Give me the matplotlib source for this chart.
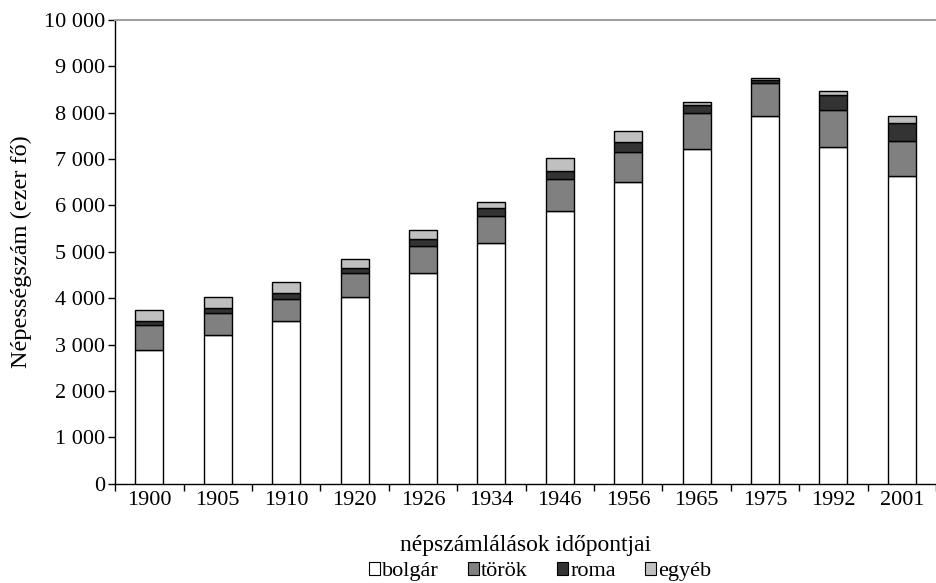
import matplotlib.pyplot as plt
import numpy as np
from matplotlib.ticker import FuncFormatter, MultipleLocator
from matplotlib.patches import Patch

plt.rcParams['font.family'] = ['Liberation Serif', 'DejaVu Serif']

# népszámlálások (ezer fő)
years = ["1900", "1905", "1910", "1920", "1926", "1934", "1946", "1956", "1965", "1975", "1992", "2001"]
bolgar = [2890, 3200, 3520, 4030, 4550, 5190, 5890, 6500, 7220, 7920, 7260, 6640]
torok = [530, 480, 460, 510, 580, 590, 680, 650, 780, 720, 800, 750]
roma = [100, 120, 130, 110, 140, 160, 180, 210, 170, 55, 320, 380]
egyeb = [230, 230, 230, 190, 200, 130, 270, 250, 50, 45, 90, 150]

series = [("bolgár", bolgar, "white"),
          ("török", torok, "#808080"),
          ("roma", roma, "#333333"),
          ("egyéb", egyeb, "#c0c0c0")]


def thousands(x, pos):
    return f"{int(x):,}".replace(",", " ")


fig = plt.figure(figsize=(9.36, 5.83), dpi=100)
ax = fig.add_axes([0.123, 0.170, 0.877, 0.796])

x = np.arange(len(years))
bottom = np.zeros(len(years))
handles = []
for name, vals, color in series:
    ax.bar(x, vals, width=0.41, bottom=bottom, color=color,
           edgecolor="black", linewidth=1.0, zorder=3)
    bottom += np.array(vals)
    handles.append(Patch(facecolor=color, edgecolor="black", linewidth=0.8, label=name))

ax.set_xlim(-0.5, len(years) - 0.5)
ax.set_ylim(0, 10000)
ax.yaxis.set_major_locator(MultipleLocator(1000))
ax.yaxis.set_major_formatter(FuncFormatter(thousands))

# ticks between categories
ax.set_xticks(np.arange(-0.5, len(years), 1.0))
ax.set_xticklabels([])
ax.set_xticks(x, minor=True)
ax.set_xticklabels(years, minor=True)
ax.tick_params(axis="x", which="major", direction="out", length=5, width=1)
ax.tick_params(axis="x", which="minor", length=0, pad=5, labelsize=16)
ax.tick_params(axis="y", direction="out", length=5, width=1, labelsize=16, pad=2)

ax.spines["right"].set_visible(False)
ax.spines["top"].set_color("#a0a0a0")
ax.spines["top"].set_linewidth(1.5)
ax.spines["left"].set_linewidth(1)
ax.spines["bottom"].set_linewidth(1)

ax.set_ylabel("Népességszám (ezer fő)", fontsize=17.5, labelpad=9)
ax.set_xlabel("népszámlálások időpontjai", fontsize=17, labelpad=18)

fig.legend(handles=handles, loc="lower center", bbox_to_anchor=(0.577, -0.031),
           ncol=4, frameon=False, fontsize=16, handlelength=0.5, handleheight=0.5,
           handletextpad=0.1, columnspacing=1.3)

plt.savefig("out.png", dpi=100)
